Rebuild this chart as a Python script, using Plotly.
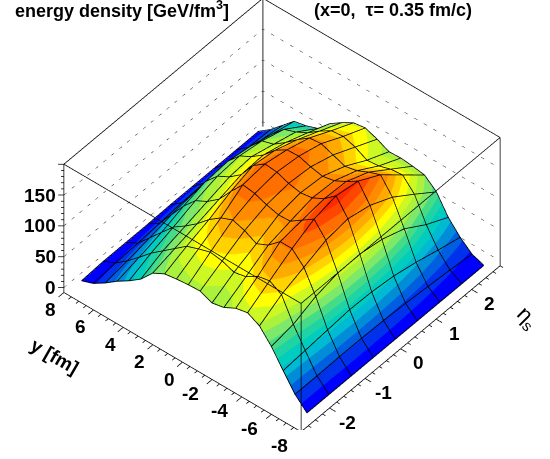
import numpy as np
import plotly.graph_objects as go

eta = [-2.47, -1.85, -1.22, -0.6, 0.02, 0.64, 1.27, 1.89, 2.51]
y_fm = [-7.6, -6.8, -6.0, -5.2, -4.4, -3.6, -2.8, -2.0, -1.2, -0.4, 0.4, 1.2, 2.0, 2.8, 3.6, 4.4, 5.2, 6.0, 6.8, 7.6]
row0 = [0,19,46,74,96,106,102,92,88,96,95,93,90,80,59,45,33,19,7,0]
row1 = [0,19,49,80,117,128,124,112,108,115,118,112,105,90,75,60,42,25,10,2]
row2 = [0,20,52,95,131,150,150,133,124,134,140,132,118,100,85,72,52,32,12,2]
row3 = [0,20,55,103,145,168,155,142,141,146,153,156,134,110,95,85,65,40,15,2]
row4 = [0,19,54,104,150,176,160,150,147,151,158,160,146,120,105,95,75,45,18,3]
row5 = [0,17,50,98,142,170,158,148,144,148,154,153,141,122,108,98,78,48,20,3]
row6 = [0,14,42,85,125,150,143,134,130,137,144,142,128,112,98,92,72,45,20,3]
row7 = [0,11,32,62,100,120,118,112,110,120,126,124,112,98,88,81,62,40,18,3]
row8 = [0,7,23,44,74,90,93,95,94,103,110,107,96,83,64,57,53,35,17,3]
z_vals = np.array([row0,row1,row2,row3,row4,row5,row6,row7,row8]).T

z_ticks = [0,50,100,150]
y_ticks = [-8,-6,-4,-2,0,2,4,6,8]
eta_ticks = [-2,-1,0,1,2]
band_colors = ["#0000ff","#0032eb","#005fe1","#008cd7","#00b9d2","#00cdbe","#1ed4a5","#46dc87","#7de869","#aaf23c",
 "#cdf823","#ffff00","#ffd200","#ffaa00","#ff8c00","#ff6e00","#ff4600","#ff2800","#ff1400"]
ZMAX = 190.0

E0,E1 = -2.8,2.8
Y0,Y1 = -8.0,8.0
Z0,Z1 = -8.0,200.0
EP,YP,ZP = 0.3,0.6,5.0
SCALE = 1.44
LIFT = 1.0

n=len(band_colors)
cs=[]
for k,c in enumerate(band_colors):
    cs += [[k/n,c],[(k+1)/n,c]]

def seg(traces, pts, color="black", width=1.2, dash=None):
    xs,ys,zs=[],[],[]
    for p in pts:
        for q in p:
            xs.append(q[0]);ys.append(q[1]);zs.append(q[2])
        xs.append(None);ys.append(None);zs.append(None)
    line=dict(color=color,width=width)
    if dash: line["dash"]=dash
    traces.append(go.Scatter3d(x=xs,y=ys,z=zs,mode="lines",line=line,hoverinfo="skip",showlegend=False))

traces=[go.Surface(x=eta,y=y_fm,z=z_vals,colorscale=cs,cmin=0,cmax=ZMAX,showscale=False,
    lighting=dict(ambient=1,diffuse=0,specular=0,fresnel=0,roughness=1),
    contours=dict(x=dict(highlight=False),y=dict(highlight=False),z=dict(highlight=False)),
    hoverinfo="skip")]

# surface mesh lines, one line per grid row and column of the same data
mesh=[]
for jj,yv in enumerate(y_fm):
    mesh.append([(eta[ii],yv,z_vals[jj][ii]+LIFT) for ii in range(len(eta))])
for ii,ev in enumerate(eta):
    mesh.append([(ev,y_fm[jj],z_vals[jj][ii]+LIFT) for jj in range(len(y_fm))])
seg(traces,mesh,width=1.6)

box=[]
for a,b in [((E0,Y1),(E1,Y1)),((E1,Y1),(E1,Y0)),((E0,Y1),(E0,Y0)),((E0,Y0),(E1,Y0))]:
    box.append([(a[0],a[1],Z1),(b[0],b[1],Z1)])
box.append([(E0,Y1,Z0),(E0,Y0,Z0)])
box.append([(E0,Y0,Z0),(E1,Y0,Z0)])
for c in [(E0,Y1),(E0,Y0),(E1,Y0)]:
    box.append([(c[0],c[1],Z0),(c[0],c[1],Z1)])
seg(traces,box,width=1.5)
seg(traces,[[(E1,Y1,Z0),(E1,Y1,Z1)]],color="#555555",width=2.5)
grid=[]
for z in z_ticks:
    grid.append([(E0,Y1,z),(E1,Y1,z)])
    grid.append([(E1,Y1,z),(E1,Y0,z)])
seg(traces,grid,color="#333333",width=1,dash="dot")

T=[]
for v in np.arange(-8,8.01,0.5):
    major = abs(v%2)<1e-6
    T.append([(E0,v,Z0),(E0-(0.15 if major else 0.08),v,Z0)])
for v in np.arange(-2.8,2.81,0.2):
    v=round(v,1)
    major = abs(v-round(v))<1e-6
    T.append([(v,Y0,Z0),(v,Y0-(0.4 if major else 0.2),Z0)])
for v in np.arange(0,200.1,10):
    major = abs(v%50)<1e-6
    t=0.012 if major else 0.006
    T.append([(E0,Y1,v),(E0-t*5.6,Y1+1.194*t*16,v)])
seg(traces,T,width=1.5)

fnt=dict(family="Liberation Sans",size=19,color="black",weight="bold")
ann=[]
for v in z_ticks:
    ann.append(dict(x=E0,y=Y1,z=v,text=str(v),showarrow=False,xanchor="right",xshift=-6,font=fnt))
for v in y_ticks:
    ann.append(dict(x=E0,y=v,z=Z0,text=str(v),showarrow=False,xshift=-13-(9 if v<0 else 0),yshift=-17+(v<0)*3,font=fnt))
for v in eta_ticks:
    ann.append(dict(x=v,y=Y0,z=Z0,text=str(v),showarrow=False,xshift=18,yshift=-14,font=fnt))

theta=np.radians(44.4); psi=np.radians(40.0); R=1.3
eye=dict(x=-R*np.cos(psi)*np.cos(theta),y=-R*np.sin(psi)*np.cos(theta),z=R*np.sin(theta))
hid=dict(visible=False,showgrid=False,zeroline=False,showbackground=False,showspikes=False)
fig=go.Figure(traces)
fig.update_layout(width=550,height=459,margin=dict(l=0,r=0,t=0,b=0),paper_bgcolor="white",showlegend=False,
  scene=dict(domain=dict(x=[14/550,1],y=[29/459,1]),
    xaxis=dict(hid,range=[E0-EP,E1+EP]),
    yaxis=dict(hid,range=[Y0-YP,Y1+YP]),
    zaxis=dict(hid,range=[Z0-ZP,Z1+ZP]),
    aspectmode="manual",
    aspectratio=dict(x=SCALE*(E1-E0+2*EP)/(E1-E0),y=SCALE*(Y1-Y0+2*YP)/(Y1-Y0),z=SCALE*0.58*(Z1-Z0+2*ZP)/(Z1-Z0)),
    camera=dict(eye=eye,center=dict(x=0,y=0,z=0),up=dict(x=0,y=0,z=1),projection=dict(type="orthographic")),
    annotations=ann),
  annotations=[
    dict(xref="paper",yref="paper",x=13/550,y=1-10/459,xanchor="left",yanchor="middle",showarrow=False,
         text="energy density [GeV/fm<sup>3</sup>]",font=dict(family="Liberation Sans",size=18,color="black",weight="bold")),
    dict(xref="paper",yref="paper",x=312/550,y=1-10/459,xanchor="left",yanchor="middle",showarrow=False,
         text="(x=0,  τ= 0.35 fm/c)",font=dict(family="Liberation Sans",size=18,color="black",weight="bold")),
    dict(xref="paper",yref="paper",x=55/550,y=1-356/459,xanchor="center",yanchor="middle",showarrow=False,textangle=30,
         text="y [fm]",font=dict(family="Liberation Sans",size=19,color="black",weight="bold")),
    dict(xref="paper",yref="paper",x=527/550,y=1-318/459,xanchor="center",yanchor="middle",showarrow=False,textangle=45,
         text="η<sub>s</sub>",font=dict(family="Liberation Sans",size=22,color="black")),
  ])
fig.write_html("out.html",config=dict(displayModeBar=False),post_script="document.body.style.margin='0';window.dispatchEvent(new Event('resize'));")
